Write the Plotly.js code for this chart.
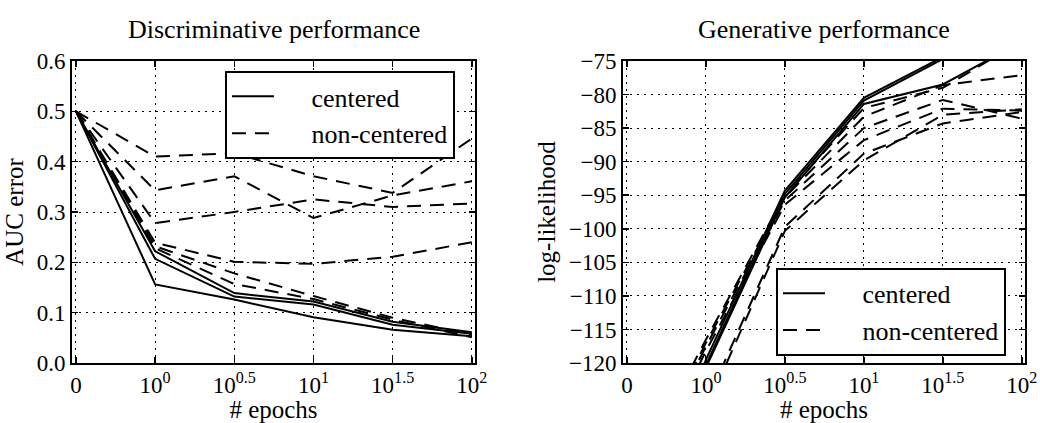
<!DOCTYPE html>
<html><head><meta charset="utf-8">
<script src="https://cdn.plot.ly/plotly-3.0.1.min.js"></script>
<style>html,body{margin:0;padding:0;background:#fff}#chart{width:1040px;height:423px}</style>
</head><body><div id="chart"></div>
<script>
// ---- data ----
const epochs = [0, 1, Math.pow(10, 0.5), 10, Math.pow(10, 1.5), 100];
const tickLabels = ['0', '10<sup>0</sup>', '10<sup>0.5</sup>', '10<sup>1</sup>', '10<sup>1.5</sup>', '10<sup>2</sup>'];
const seriesNames = ['centered', 'non-centered'];

// Discriminative performance (AUC error)
const aucCentered1 = [0.5, 0.156, 0.126, 0.091, 0.066, 0.053];
const aucCentered2 = [0.5, 0.207, 0.132, 0.116, 0.076, 0.058];
const aucCentered3 = [0.5, 0.222, 0.139, 0.122, 0.082, 0.061];
const aucNonCentered1 = [0.5, 0.410, 0.417, 0.371, 0.338, 0.446];
const aucNonCentered2 = [0.5, 0.343, 0.371, 0.288, 0.333, 0.361];
const aucNonCentered3 = [0.5, 0.278, 0.300, 0.325, 0.310, 0.317];
const aucNonCentered4 = [0.5, 0.239, 0.201, 0.197, 0.211, 0.240];
const aucNonCentered5 = [0.5, 0.232, 0.178, 0.133, 0.090, 0.056];
const aucNonCentered6 = [0.5, 0.228, 0.157, 0.127, 0.086, 0.051];

// Generative performance (log-likelihood)
const llCentered1 = [-150, -119.5, -94.3, -80.5, -74.4, -72.5];
const llCentered2 = [-152, -120.3, -94.8, -80.9, -74.7, -73.0];
const llCentered3 = [-152, -120.7, -95.3, -81.4, -78.5, -72.1];
const llNonCentered1 = [-140, -117.0, -95.3, -83.3, -78.6, -77.1];
const llNonCentered2 = [-141, -117.5, -95.8, -85.0, -80.8, -83.6];
const llNonCentered3 = [-142, -118.2, -96.4, -86.8, -82.1, -82.4];
const llNonCentered4 = [-160, -126.0, -99.7, -88.8, -84.3, -82.6];
const llNonCentered5 = [-162, -127.0, -100.3, -89.8, -83.0, -82.2];
const llNonCentered6 = [-139, -116.5, -95.0, -82.0, -79.0, -72.0];

// ---- axis mapping: 0 epochs sits half a decade left of 10^0 ----
function pos(e) { return e > 0 ? Math.log10(e) : -0.5; }
const xPos = epochs.map(pos);

const FONT = '"Liberation Serif", "Times New Roman", serif';
const DASH = '14px,9px';
const PAD = '\u00a0\u00a0\u00a0\u00a0\u00a0';

function tr(y, dashed, xa, ya, lg, show) {
  return {
    x: xPos, y: y, xaxis: xa, yaxis: ya, mode: 'lines', type: 'scatter',
    line: {color: 'black', width: 2, dash: dashed ? DASH : 'solid'},
    name: PAD + (dashed ? seriesNames[1] : seriesNames[0]),
    legend: lg, showlegend: show, hoverinfo: 'skip'
  };
}

const data = [];
[aucCentered1, aucCentered2, aucCentered3].forEach((y, i) => data.push(tr(y, false, 'x', 'y', 'legend', i === 0)));
[aucNonCentered1, aucNonCentered2, aucNonCentered3, aucNonCentered4, aucNonCentered5, aucNonCentered6]
  .forEach((y, i) => data.push(tr(y, true, 'x', 'y', 'legend', i === 0)));
[llCentered1, llCentered2, llCentered3].forEach((y, i) => data.push(tr(y, false, 'x2', 'y2', 'legend2', i === 0)));
[llNonCentered1, llNonCentered2, llNonCentered3, llNonCentered4, llNonCentered5, llNonCentered6]
  .forEach((y, i) => data.push(tr(y, true, 'x2', 'y2', 'legend2', i === 0)));

const tickVals = epochs.map(pos);

function xAxis(domain, anchor) {
  return {
    domain: domain, anchor: anchor, range: [-0.525, 2.02],
    tickmode: 'array', tickvals: tickVals, ticktext: tickLabels,
    showline: true, linecolor: 'black', linewidth: 2, mirror: 'ticks',
    ticks: 'inside', ticklen: 6, tickwidth: 1.5, tickcolor: 'black',
    showgrid: true, gridcolor: 'black', gridwidth: 1, griddash: '2px,5px',
    zeroline: false, tickfont: {family: FONT, size: 23, color: 'black'},
    title: {text: '# epochs', font: {family: FONT, size: 25, color: 'black'}, standoff: 4}
  };
}
function yAxis(range, dtick, fmt, title, anchor) {
  return {
    anchor: anchor, domain: [0, 1], range: range, dtick: dtick, tickformat: fmt,
    showline: true, linecolor: 'black', linewidth: 2, mirror: 'ticks',
    ticks: 'inside', ticklen: 6, tickwidth: 1.5, tickcolor: 'black',
    showgrid: true, gridcolor: 'black', gridwidth: 1, griddash: '2px,5px',
    zeroline: false, tickfont: {family: FONT, size: 23, color: 'black'},
    title: {text: title, font: {family: FONT, size: 25, color: 'black'}, standoff: 6}
  };
}

const legendBase = {
  bgcolor: 'white', bordercolor: 'black', borderwidth: 2,
  font: {family: FONT, size: 26, color: 'black'},
  xanchor: 'left', yanchor: 'top', traceorder: 'normal', itemwidth: 42
};

// plot area spans x 72..1025 px and y 61..363 px; legend/annotation paper coords are relative to it
const layout = {
  width: 1040, height: 423,
  margin: {l: 72, r: 15, t: 61, b: 60},
  paper_bgcolor: 'white', plot_bgcolor: 'white',
  font: {family: FONT, color: 'black'},
  xaxis: xAxis([0, 0.4229], 'y'),
  yaxis: yAxis([0, 0.6], 0.1, '.1f', 'AUC error', 'x'),
  xaxis2: xAxis([0.5782, 1], 'y2'),
  yaxis2: yAxis([-120, -75], 5, 'd', 'log-likelihood', 'x2'),
  legend: Object.assign({}, legendBase, {x: 0.1605, y: 0.967, xref: 'paper', yref: 'paper'}),
  legend2: Object.assign({}, legendBase, {x: 0.7387, y: 0.3152, xref: 'paper', yref: 'paper'}),
  annotations: [
    {text: 'Discriminative performance', xref: 'paper', yref: 'paper', x: 0.2115, y: 1.105,
     xanchor: 'center', yanchor: 'middle', showarrow: false, font: {family: FONT, size: 26, color: 'black'}},
    {text: 'Generative performance', xref: 'paper', yref: 'paper', x: 0.789, y: 1.105,
     xanchor: 'center', yanchor: 'middle', showarrow: false, font: {family: FONT, size: 26, color: 'black'}}
  ]
};

Plotly.newPlot('chart', data, layout, {staticPlot: true, displayModeBar: false});
</script>
</body></html>
